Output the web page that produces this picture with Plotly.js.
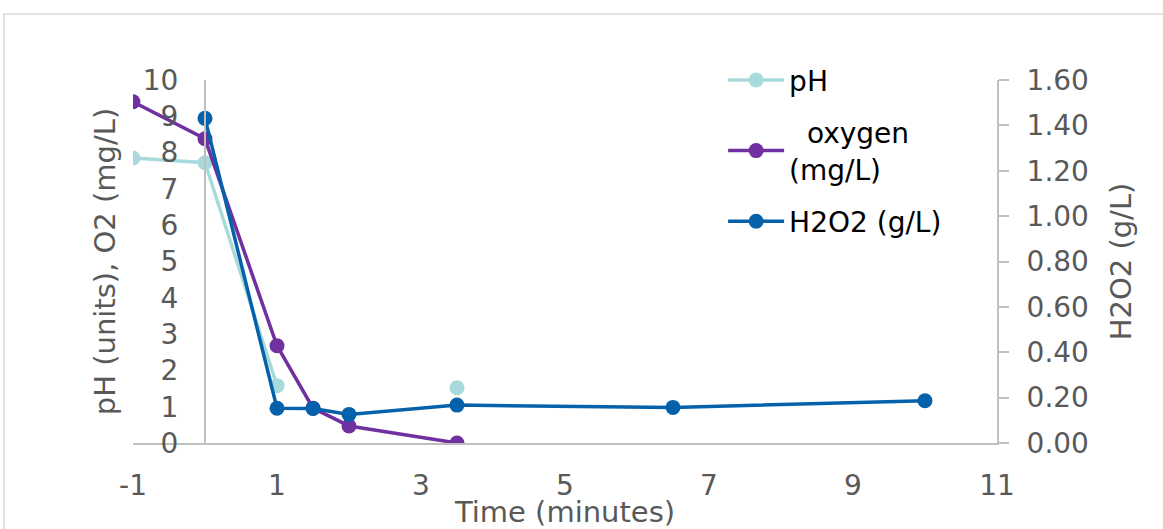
<!DOCTYPE html>
<html>
<head>
<meta charset="utf-8">
<script src="https://cdn.plot.ly/plotly-3.0.1.min.js"></script>
<style>html,body{margin:0;padding:0;background:#fff;}#chart{width:1163px;height:529px;}</style>
</head>
<body>
<div id="chart"></div>
<script>
const timeMin = [-1, 0, 1, 1.5, 2, 3.5, 6.5, 10];
const phUnits = [7.85, 7.72, 1.58, null, null, 1.52, null, null];
const oxygenMgL = [9.40, 8.38, 2.68, 0.96, 0.47, 0.0, null, null];
const h2o2GL = [null, 1.431, 0.153, 0.152, 0.126, 0.167, 0.157, 0.186];

const xTickVals = [-1, 1, 3, 5, 7, 9, 11];
const xTickText = ['-1', '1', '3', '5', '7', '9', '11'];

const seriesNames = ['pH', '\u00a0\u00a0oxygen<br>(mg/L)', 'H2O2 (g/L)'];
const xTitle = 'Time (minutes)';
const yTitle = 'pH (units), O2 (mg/L)';
const y2Title = 'H2O2 (g/L)';

const FONT = 'DejaVu Sans, Verdana, sans-serif';
const GRAY = '#595959';
const AXC = '#BFBFBF';

const traces = [
  {x: timeMin, y: phUnits, name: seriesNames[0], mode: 'lines+markers', connectgaps: false,
   line: {color: '#A9DADB', width: 3.5}, marker: {color: '#A9DADB', size: 15}, legendgroup: 'a'},
  {x: timeMin, y: oxygenMgL, name: seriesNames[1], mode: 'lines+markers', connectgaps: false,
   line: {color: '#7030A0', width: 3.5}, marker: {color: '#7030A0', size: 15}, legendgroup: 'b'},
  {x: timeMin, y: h2o2GL, name: seriesNames[2], mode: 'lines+markers', connectgaps: false, yaxis: 'y2',
   line: {color: '#0561AA', width: 3.5}, marker: {color: '#0561AA', size: 15}, legendgroup: 'c'}
];

const layout = {
  width: 1163, height: 529,
  margin: {l: 133, r: 166, t: 80, b: 86},
  paper_bgcolor: '#fff', plot_bgcolor: '#fff',
  font: {family: FONT, size: 28, color: GRAY},
  showlegend: true,
  legend: {x: 0.683, y: 1.068, xanchor: 'left', yanchor: 'top', bgcolor: 'rgba(0,0,0,0)',
           font: {family: FONT, size: 28, color: '#000'}, itemwidth: 56, tracegroupgap: 13,
           valign: 'middle'},
  xaxis: {range: [-1, 11], tickmode: 'array', tickvals: xTickVals, ticktext: xTickText,
          showgrid: false, zeroline: false,
          showline: true, linecolor: AXC, linewidth: 2, ticks: '', ticklabelstandoff: 16,
          tickfont: {family: FONT, size: 28, color: GRAY},
          title: {text: xTitle, font: {family: FONT, size: 29, color: GRAY}, standoff: 10}},
  yaxis: {range: [0, 10], dtick: 1, showgrid: false, zeroline: false,
          anchor: 'free', position: 1/12, side: 'left',
          showline: true, linecolor: AXC, linewidth: 2, ticks: '', ticklabelstandoff: 20,
          tickfont: {family: FONT, size: 28, color: GRAY},
          title: {text: yTitle, font: {family: FONT, size: 29, color: GRAY}, standoff: 18}},
  yaxis2: {range: [0, 1.6], dtick: 0.2, tickformat: '.2f', overlaying: 'y', side: 'right',
           showgrid: false, zeroline: false, showline: true, linecolor: AXC, linewidth: 2,
           ticks: 'outside', ticklen: 10, tickcolor: AXC, tickwidth: 2, ticklabelstandoff: 12,
           tickfont: {family: FONT, size: 28, color: GRAY},
           title: {text: y2Title, font: {family: FONT, size: 29, color: GRAY}, standoff: 23}},
  shapes: [
    {type: 'rect', xref: 'paper', yref: 'paper', x0: -0.1493, x1: 1.4, y0: -0.6, y1: 1.1818,
     line: {color: '#D9D9D9', width: 1.5}, fillcolor: 'rgba(0,0,0,0)', layer: 'below'}
  ]
};

Plotly.newPlot('chart', traces, layout, {displayModeBar: false, staticPlot: true});
</script>
</body>
</html>
